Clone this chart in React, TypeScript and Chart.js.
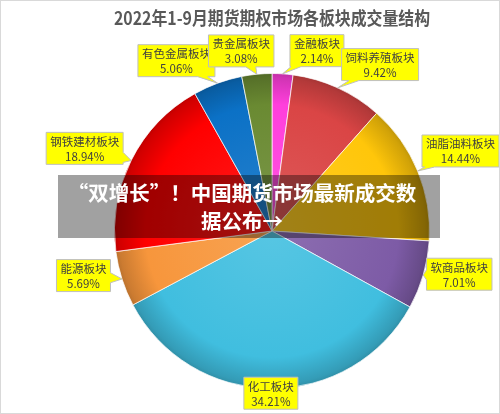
import React, { useEffect, useRef } from "react";
import { Chart, registerables } from "chart.js";

Chart.register(...registerables);

const titleText = "2022年1-9月期货期权市场各板块成交量结构";
const categories = ["金融板块", "饲料养殖板块", "油脂油料板块", "软商品板块", "化工板块", "能源板块", "钢铁建材板块", "有色金属板块", "贵金属板块"];
const shares = [2.14, 9.42, 14.44, 7.01, 34.21, 5.69, 18.94, 5.06, 3.08];
const sliceColors = ["#FF3FDC", "#DA4545", "#FFC60A", "#7D5BA6", "#40BEDF", "#F7963C", "#FF0000", "#0B71C6", "#6A8A32"];
// label box placement (polar, relative to pie centre): angle clockwise from top, distance / radius
const labelAngles = [14, 33, 67, 103, 180.4, 256.7, 293.8, 330.7, 350.3];
const labelDist = [1.18, 1.26, 1.3, 1.22, 1.03, 1.23, 1.3, 1.24, 1.16];
const bannerLines = ["“双增长”！中国期货市场最新成交数", "据公布→"];

function shade(hex: string, amt: number) {
  const n = parseInt(hex.slice(1), 16);
  let r = (n >> 16) & 255, g = (n >> 8) & 255, b = n & 255;
  const f = (c: number) => Math.max(0, Math.min(255, Math.round(amt >= 0 ? c + (255 - c) * amt : c * (1 + amt))));
  return `rgb(${f(r)},${f(g)},${f(b)})`;
}

const calloutPlugin = {
  id: "callouts",
  afterDatasetsDraw(chart: any) {
    const ctx = chart.ctx;
    const meta = chart.getDatasetMeta(0);
    ctx.save();
    ctx.font = "11.5px 'Noto Sans CJK SC', sans-serif";
    meta.data.forEach((arc: any, i: number) => {
      const { x, y, outerRadius, startAngle, endAngle } = arc.getProps(["x", "y", "outerRadius", "startAngle", "endAngle"], true);
      const mid = (startAngle + endAngle) / 2;
      const tx = x + Math.cos(mid) * outerRadius;
      const ty = y + Math.sin(mid) * outerRadius;
      const la = (labelAngles[i] - 90) * Math.PI / 180;
      const cx = x + Math.cos(la) * outerRadius * labelDist[i];
      const cy = y + Math.sin(la) * outerRadius * labelDist[i];
      const l1 = categories[i];
      const l2 = shares[i].toFixed(2) + "%";
      const w = Math.max(ctx.measureText(l1).width, ctx.measureText(l2).width) + 8;
      const h = 32;
      const L = cx - w / 2, R = cx + w / 2, T = cy - h / 2, B = cy + h / 2;
      const inside = tx > L && tx < R && ty > T && ty < B;
      const pts: [number, number][] = [];
      const dx = tx - cx, dy = ty - cy;
      let side = "";
      if (!inside) {
        const sx = Math.abs(dx) / (w / 2), sy = Math.abs(dy) / (h / 2);
        if (sx > sy) side = dx > 0 ? "R" : "L"; else side = dy > 0 ? "B" : "T";
      }
      const wedge = (a: number, b: number, along: number, fixed: number, horizontal: boolean) => {
        const half = 5;
        const c = Math.max(Math.min(along, Math.max(a, b) - half - 1), Math.min(a, b) + half + 1);
        const dir = b > a ? 1 : -1;
        if (horizontal) {
          pts.push([c - dir * half, fixed]);
          pts.push([tx, ty]);
          pts.push([c + dir * half, fixed]);
        } else {
          pts.push([fixed, c - dir * half]);
          pts.push([tx, ty]);
          pts.push([fixed, c + dir * half]);
        }
      };
      pts.push([L, T]);
      if (side === "T") wedge(L, R, cx + dx * ((h / 2) / Math.abs(dy)) * 0.9, T, true);
      pts.push([R, T]);
      if (side === "R") wedge(T, B, cy + dy * ((w / 2) / Math.abs(dx)) * 0.9, R, false);
      pts.push([R, B]);
      if (side === "B") wedge(R, L, cx + dx * ((h / 2) / Math.abs(dy)) * 0.9, B, true);
      pts.push([L, B]);
      if (side === "L") wedge(B, T, cy + dy * ((w / 2) / Math.abs(dx)) * 0.9, L, false);
      ctx.beginPath();
      pts.forEach((p, k) => (k === 0 ? ctx.moveTo(p[0], p[1]) : ctx.lineTo(p[0], p[1])));
      ctx.closePath();
      ctx.fillStyle = "#FFFF00";
      ctx.fill();
      ctx.strokeStyle = "#BFBFBF";
      ctx.lineWidth = 1;
      ctx.stroke();
      ctx.fillStyle = "#404040";
      ctx.textAlign = "center";
      ctx.textBaseline = "middle";
      ctx.fillText(l1, cx, cy - 7);
      ctx.fillText(l2, cx, cy + 8);
    });
    ctx.restore();
  },
};

export default function App() {
  const ref = useRef<HTMLCanvasElement | null>(null);
  useEffect(() => {
    if (!ref.current) return;
    const chart = new Chart(ref.current, {
      type: "pie",
      data: {
        labels: categories,
        datasets: [
          {
            data: shares,
            backgroundColor: (c: any) => {
              const base = sliceColors[c.dataIndex];
              const ch = c.chart;
              const a = ch.chartArea;
              if (!a) return base;
              const x = (a.left + a.right) / 2, y = (a.top + a.bottom) / 2;
              const r = Math.min(a.right - a.left, a.bottom - a.top) / 2;
              const g = ch.ctx.createRadialGradient(x, y, 0, x, y, r);
              g.addColorStop(0, shade(base, 0.12));
              g.addColorStop(0.8, base);
              g.addColorStop(0.97, shade(base, -0.18));
              g.addColorStop(1, shade(base, -0.25));
              return g;
            },
            borderColor: "rgba(255,255,255,0.7)",
            borderWidth: 1,
          },
        ],
      },
      options: {
        responsive: false,
        animation: false,
        layout: { padding: { top: 0, left: 113, right: 69, bottom: 24 } },
        plugins: {
          legend: { display: false },
          tooltip: { enabled: false },
          title: {
            display: true,
            text: titleText,
            color: "#595959",
            font: { size: 18, weight: "bold", family: "'Noto Sans CJK SC', sans-serif", lineHeight: 1.2 },
            padding: { top: 6, bottom: 72 - 6 - 21.6 },
          },
        },
      },
      plugins: [calloutPlugin],
    });
    return () => chart.destroy();
  }, []);
  return (
    <div style={{ position: "absolute", left: 0, top: 0, width: 500, height: 414, boxSizing: "border-box", border: "1px solid #D9D9D9", background: "#fff" }}>
      <canvas ref={ref} width={498} height={412} style={{ display: "block", width: 498, height: 412 }} />
      <div
        style={{
          position: "absolute",
          left: 57,
          top: 174,
          width: 382,
          height: 63,
          background: "rgba(0,0,0,0.37)",
          color: "#fff",
          fontFamily: "'Noto Sans CJK SC', sans-serif",
          fontWeight: "bold",
          fontSize: 20.5,
          lineHeight: "28px",
          textAlign: "center",
          paddingTop: 3,
          paddingRight: 14,
          boxSizing: "border-box",
          whiteSpace: "nowrap",
        }}
      >
        {bannerLines[0]}
        <br />
        {bannerLines[1]}
      </div>
    </div>
  );
}
